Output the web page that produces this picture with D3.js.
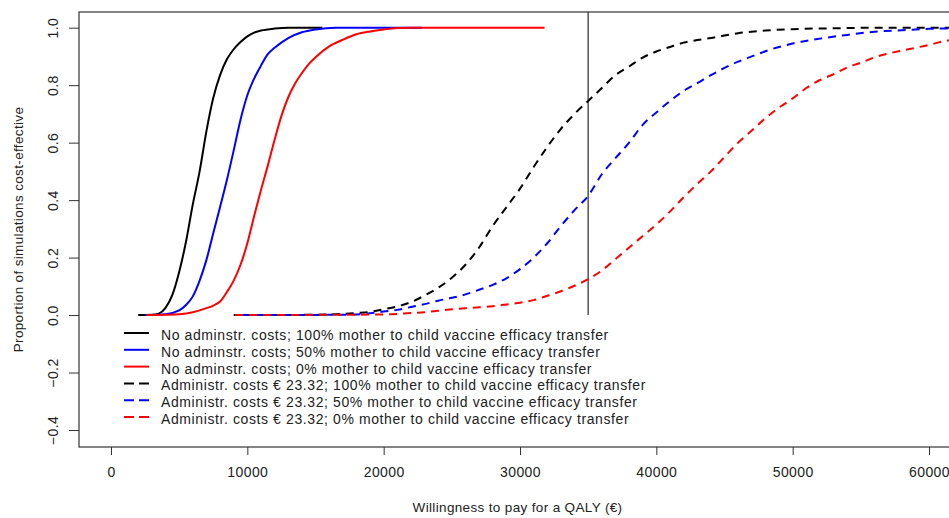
<!DOCTYPE html>
<html>
<head>
<meta charset="utf-8">
<script src="https://cdn.jsdelivr.net/npm/d3@7"></script>
<style>
  body { margin: 0; background: #fff; }
  svg { display: block; font-family: "Liberation Sans", Arial, sans-serif; }
</style>
</head>
<body>
<svg id="chart" width="949" height="518"></svg>
<script>
// willingness to pay (EUR) vs proportion cost-effective
const noAdmin100 = [[2000,0],[3000,0.001],[3500,0.005],[4000,0.025],[4500,0.07],[5000,0.15],[5500,0.255],[6000,0.385],[6500,0.5],[7000,0.64],[7500,0.755],[8000,0.835],[8500,0.89],[9000,0.925],[9500,0.95],[10000,0.97],[10500,0.983],[11000,0.99],[12000,0.997],[13000,1],[15500,1]];
const noAdmin50 = [[2500,0],[4000,0.003],[5000,0.016],[5500,0.035],[6000,0.065],[6500,0.12],[7000,0.192],[7500,0.285],[8000,0.376],[8500,0.47],[9000,0.573],[9500,0.68],[10000,0.765],[10500,0.823],[11000,0.868],[11500,0.908],[12000,0.93],[13000,0.964],[14000,0.984],[15000,0.994],[16500,1],[22800,1]];
const noAdmin0 = [[2600,0],[4000,0.001],[5000,0.003],[6000,0.01],[7000,0.024],[7500,0.033],[8000,0.047],[8500,0.08],[9000,0.12],[9500,0.175],[10000,0.25],[10500,0.345],[11000,0.435],[11500,0.52],[12000,0.61],[12500,0.693],[13000,0.758],[13500,0.806],[14000,0.842],[14500,0.873],[15000,0.897],[16000,0.935],[17000,0.958],[18000,0.977],[19000,0.987],[20000,0.994],[21000,0.999],[22000,1],[31800,1]];
const admin100 = [[9000,0],[15000,0.001],[17000,0.004],[18000,0.007],[19000,0.011],[20000,0.02],[21000,0.03],[22000,0.045],[23000,0.068],[24000,0.095],[25000,0.13],[26000,0.175],[27000,0.235],[28000,0.31],[29000,0.375],[30000,0.44],[31000,0.515],[32000,0.585],[33000,0.648],[34000,0.7],[35000,0.745],[36000,0.79],[37000,0.835],[38000,0.865],[39000,0.896],[40000,0.917],[41000,0.933],[42000,0.948],[43000,0.957],[44000,0.964],[46000,0.981],[48000,0.99],[50000,0.995],[53000,0.998],[56000,1],[62000,1]];
const admin50 = [[9500,0],[17000,0.001],[19000,0.006],[20000,0.012],[21000,0.018],[22000,0.028],[23000,0.038],[24000,0.05],[25000,0.06],[26000,0.072],[27000,0.088],[28000,0.105],[29000,0.128],[30000,0.16],[31000,0.2],[32000,0.25],[33000,0.31],[34000,0.365],[35000,0.415],[36000,0.49],[37000,0.546],[38000,0.6],[39000,0.662],[40000,0.705],[41000,0.745],[42000,0.78],[43000,0.807],[44000,0.835],[45000,0.86],[46000,0.882],[47000,0.9],[48000,0.918],[49000,0.933],[50000,0.945],[52000,0.962],[54000,0.975],[56000,0.986],[58000,0.991],[60000,0.996],[62000,0.998]];
const admin0 = [[9100,0],[20000,0.002],[22000,0.007],[23000,0.01],[24000,0.015],[25000,0.02],[26000,0.024],[27000,0.027],[28000,0.031],[29000,0.037],[30000,0.043],[31000,0.052],[32000,0.067],[33000,0.083],[34000,0.102],[35000,0.125],[36000,0.155],[37000,0.195],[38000,0.235],[39000,0.275],[40000,0.315],[41000,0.36],[42000,0.41],[43000,0.456],[44000,0.5],[45000,0.55],[46000,0.6],[47000,0.642],[48000,0.685],[49000,0.722],[50000,0.754],[51000,0.79],[52000,0.818],[53000,0.838],[54000,0.862],[55000,0.878],[56000,0.897],[57000,0.91],[58000,0.92],[59000,0.93],[60000,0.94],[61000,0.952],[62000,0.96]];

const seriesData = [noAdmin100, noAdmin50, noAdmin0, admin100, admin50, admin0];
const seriesColors = ["#000000", "#0000ff", "#ff0000", "#000000", "#0000ff", "#ff0000"];
const seriesDashed = [false, false, false, true, true, true];
const legendLabels = [
  "No adminstr. costs; 100% mother to child vaccine efficacy transfer",
  "No adminstr. costs; 50% mother to child vaccine efficacy transfer",
  "No adminstr. costs; 0% mother to child vaccine efficacy transfer",
  "Administr. costs \u20ac 23.32; 100% mother to child vaccine efficacy transfer",
  "Administr. costs \u20ac 23.32; 50% mother to child vaccine efficacy transfer",
  "Administr. costs \u20ac 23.32; 0% mother to child vaccine efficacy transfer"
];
const xTicks = [0, 10000, 20000, 30000, 40000, 50000, 60000];
const yTicks = [-0.4, -0.2, 0, 0.2, 0.4, 0.6, 0.8, 1.0];
const threshold = 35000;

const svg = d3.select("#chart");
const box = { left: 79, right: 956, top: 12, bottom: 447 };
const textCol = "#222";

const x = d3.scaleLinear().domain([0, 60000]).range([111, 929]);
const y = d3.scaleLinear().domain([-0.4, 1]).range([430, 27.7]);

svg.append("clipPath").attr("id", "plotclip")
  .append("rect")
  .attr("x", box.left).attr("y", box.top)
  .attr("width", box.right - box.left).attr("height", box.bottom - box.top);

// threshold line
svg.append("line")
  .attr("x1", x(threshold)).attr("x2", x(threshold))
  .attr("y1", box.top).attr("y2", y(0))
  .attr("stroke", "#555").attr("stroke-width", 1.5);

const line = d3.line()
  .x(d => x(d[0]))
  .y(d => y(d[1]))
  .curve(d3.curveMonotoneX);

const plot = svg.append("g").attr("clip-path", "url(#plotclip)");
seriesData.forEach((s, i) => {
  plot.append("path")
    .datum(s)
    .attr("d", line)
    .attr("fill", "none")
    .attr("stroke", seriesColors[i])
    .attr("stroke-width", 2)
    .attr("stroke-dasharray", seriesDashed[i] ? "8,6" : null);
});

// box
svg.append("rect")
  .attr("x", box.left).attr("y", box.top)
  .attr("width", box.right - box.left).attr("height", box.bottom - box.top)
  .attr("fill", "none").attr("stroke", "#333").attr("stroke-width", 1.2);

// axes
const xAxis = d3.axisBottom(x).tickValues(xTicks).tickFormat(d3.format("d")).tickSize(8).tickPadding(12);
const gx = svg.append("g").attr("transform", `translate(0,${box.bottom})`).call(xAxis);
gx.select(".domain").remove();

const yAxis = d3.axisLeft(y).tickValues(yTicks).tickFormat(d3.format(".1f")).tickSize(10).tickPadding(7);
const gy = svg.append("g").attr("transform", `translate(${box.left},0)`).call(yAxis);
gy.select(".domain").remove();
gy.selectAll(".tick text")
  .attr("text-anchor", "middle")
  .attr("x", null).attr("dy", null)
  .attr("transform", "translate(-26,0) rotate(-90)")
  .attr("dominant-baseline", "central");

[gx, gy].forEach(g => {
  g.selectAll(".tick line").attr("stroke", "#333");
  g.selectAll(".tick text").attr("font-size", 14).attr("fill", textCol)
    .attr("letter-spacing", 0.4)
    .attr("font-family", "'Liberation Sans', Arial, sans-serif");
});

// axis titles
svg.append("text")
  .attr("x", (box.left + box.right) / 2).attr("y", 512)
  .attr("text-anchor", "middle").attr("font-size", 13.5).attr("fill", textCol)
  .attr("letter-spacing", 0.35)
  .text("Willingness to pay for a QALY (\u20ac)");

svg.append("text")
  .attr("transform", `translate(23,${(box.top + box.bottom) / 2}) rotate(-90)`)
  .attr("text-anchor", "middle").attr("font-size", 13.5).attr("fill", textCol)
  .attr("letter-spacing", 0.35)
  .text("Proportion of simulations cost-effective");

// legend
const legend = svg.append("g");
legendLabels.forEach((lab, i) => {
  const ly = 333 + i * 16.8;
  legend.append("line")
    .attr("x1", 124).attr("x2", 149).attr("y1", ly).attr("y2", ly)
    .attr("stroke", seriesColors[i]).attr("stroke-width", 2)
    .attr("stroke-dasharray", seriesDashed[i] ? "10,5" : null);
  legend.append("text")
    .attr("x", 161).attr("y", ly + 2)
    .attr("dominant-baseline", "central")
    .attr("font-size", 14).attr("fill", textCol)
    .attr("letter-spacing", 0.6)
    .text(lab);
});
</script>
</body>
</html>
